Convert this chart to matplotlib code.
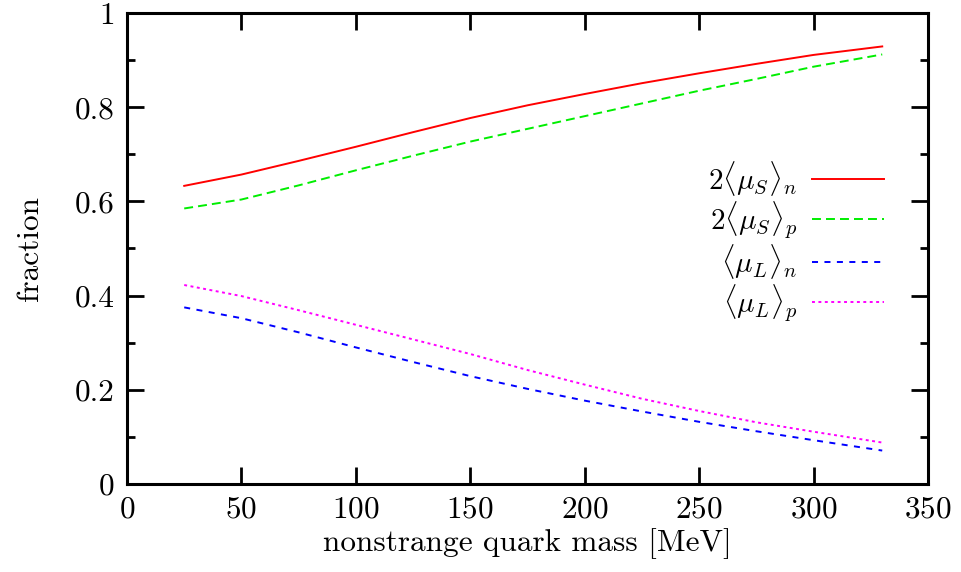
import matplotlib

matplotlib.use("Agg")
import matplotlib.pyplot as plt
from matplotlib.ticker import FixedLocator, FixedFormatter, MultipleLocator

plt.rcParams["font.family"] = ["cmr10", "DejaVu Serif"]
plt.rcParams["mathtext.fontset"] = "cm"
plt.rcParams["axes.formatter.use_mathtext"] = True

# quark mass [MeV]
mass = [25, 50, 75, 100, 125, 150, 175, 200, 225, 250, 275, 300, 330]
# fractions
spin_n = [0.633, 0.657, 0.686, 0.716, 0.747, 0.777, 0.804, 0.828, 0.851, 0.872, 0.892, 0.911, 0.929]
spin_p = [0.585, 0.604, 0.634, 0.666, 0.697, 0.727, 0.754, 0.781, 0.808, 0.835, 0.860, 0.886, 0.912]
orb_n = [0.375, 0.352, 0.322, 0.290, 0.259, 0.229, 0.202, 0.177, 0.154, 0.132, 0.112, 0.093, 0.071]
orb_p = [0.4225, 0.399, 0.369, 0.338, 0.307, 0.276, 0.242, 0.211, 0.181, 0.155, 0.131, 0.111, 0.088]

xticks = [0, 50, 100, 150, 200, 250, 300, 350]
yticks = [0, 0.2, 0.4, 0.6, 0.8, 1.0]
ytick_labels = ["0", "0.2", "0.4", "0.6", "0.8", "1"]

fig = plt.figure(figsize=(9.61, 5.72), dpi=100)
ax = fig.add_axes([127 / 961, 88 / 572, 801 / 961, 471 / 572])

lw = 1.4
ax.plot(mass, spin_n, color="#ff0000", lw=lw, label=r"$2\langle\mu_S\rangle_n$")
ax.plot(mass, spin_p, color="#00ee00", lw=lw, dashes=(4.6, 2.6), label=r"$2\langle\mu_S\rangle_p$")
ax.plot(mass, orb_n, color="#0000ff", lw=lw, dashes=(3.1, 3.3), label=r"$\langle\mu_L\rangle_n$")
ax.plot(mass, orb_p, color="#ff00ff", lw=lw, dashes=(1.5, 1.8), label=r"$\langle\mu_L\rangle_p$")

ax.set_xlim(0, 350)
ax.set_ylim(0, 1)
ax.xaxis.set_major_locator(FixedLocator(xticks))
ax.yaxis.set_major_locator(FixedLocator(yticks))
ax.yaxis.set_major_formatter(FixedFormatter(ytick_labels))
ax.yaxis.set_minor_locator(MultipleLocator(0.1))

for s in ax.spines.values():
    s.set_linewidth(2.2)
ax.tick_params(which="both", direction="in", top=True, right=True, width=2.0,
               labelsize=22.5)
ax.tick_params(which="major", length=12)
ax.tick_params(which="minor", length=6)
ax.tick_params(axis="y", pad=9)
ax.tick_params(axis="x", pad=8)

ax.set_xlabel("nonstrange quark mass [MeV]", fontsize=22.5, labelpad=4)
ax.set_ylabel("fraction", fontsize=22.5, labelpad=22)

leg = ax.legend(loc="center right", bbox_to_anchor=(0.945, 0.516), frameon=False,
                markerfirst=False, fontsize=21, handlelength=2.45, handletextpad=0.52,
                labelspacing=0.05, borderpad=0, borderaxespad=0)
for col in leg._legend_handle_box.get_children():
    col.align = "right"

fig.savefig("out.png", dpi=100, facecolor="white")
